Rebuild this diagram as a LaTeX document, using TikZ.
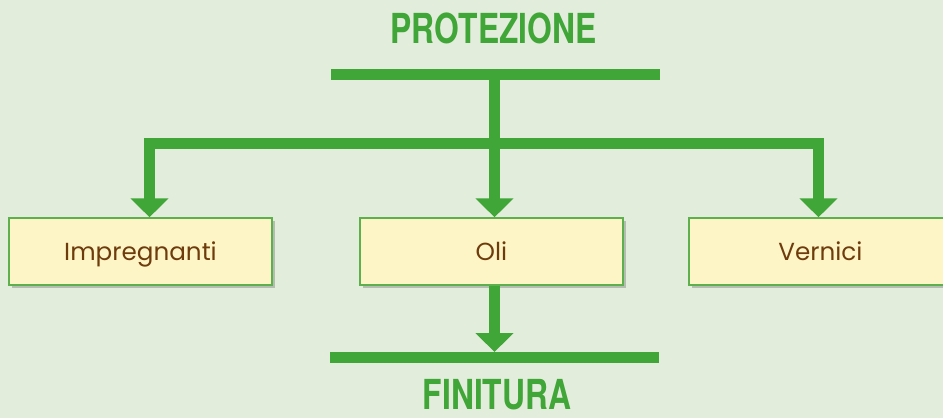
\documentclass[tikz,border=0pt]{standalone}
\usepackage{fontspec}
\setmainfont{Poppins}
\newfontfamily\titlefont{TeX Gyre Heros}
\usetikzlibrary{arrows.meta,shadows,positioning}
\definecolor{sfondo}{HTML}{E3EDDC}
\definecolor{verde}{HTML}{40A637}
\definecolor{bordo}{HTML}{5DB04E}
\definecolor{crema}{HTML}{FEF5C7}
\definecolor{marrone}{HTML}{6E3C0C}
\tikzset{
    barra/.style={verde, line width=8.25pt},
    freccia/.style={verde, line width=8.25pt, line join=miter, -{Triangle[length=14.25pt,width=27.75pt]}},
    scatola/.style={draw=bordo, line width=1.1pt, fill=crema, minimum width=197.25pt, minimum height=50.25pt,
        text=marrone, font=\fontsize{18.5}{22}\selectfont, text height=13pt, text depth=0pt,
        drop shadow={shadow xshift=2.5pt, shadow yshift=-2.5pt, fill=black!70, opacity=0.3}},
    titolo/.style={text=verde, anchor=base, font=\titlefont\bfseries\fontsize{31}{34}\selectfont}
}
\begin{document}
\begin{tikzpicture}[x=0.75pt, y=-0.75pt]
        \clip (0,0) rectangle (943,418);
        \fill[sfondo] (0,0) rectangle (943,418);

        \node[titolo] (prot) at (493.5,43) {\scalebox{0.77}[1]{PROTEZIONE}};
        \node[titolo] (fin) at (497,409) {\scalebox{0.77}[1]{FINITURA}};

        \node[scatola] (imp) at (140.5,251.5) {Impregnanti};
        \node[scatola] (oli) at (491.5,251.5) {Oli};
        \node[scatola] (ver) at (820.5,251.5) {Vernici};

        \coordinate (sa) at (331,74.5);
        \coordinate (sb) at (660,74.5);
        \coordinate (ia) at (330,357.5);
        \coordinate (ib) at (659,357.5);
        \coordinate (cima) at (494.5,74.5);
        \coordinate (nodo) at (494.5,143.5);
        \coordinate (sx) at (149.5,143.5);
        \coordinate (dx) at (818.5,143.5);
        \coordinate (base) at (494.5,352);

        \draw[barra] (sa) -- (sb);
        \draw[barra] (ia) -- (ib);
        \draw[freccia] (cima) -- (cima |- oli.north);
        \draw[freccia] (nodo) -- (sx) -- (sx |- imp.north);
        \draw[freccia] (nodo) -- (dx) -- (dx |- ver.north);
        \draw[freccia] (base |- oli.south) -- (base);
    \end{tikzpicture}
\end{document}
